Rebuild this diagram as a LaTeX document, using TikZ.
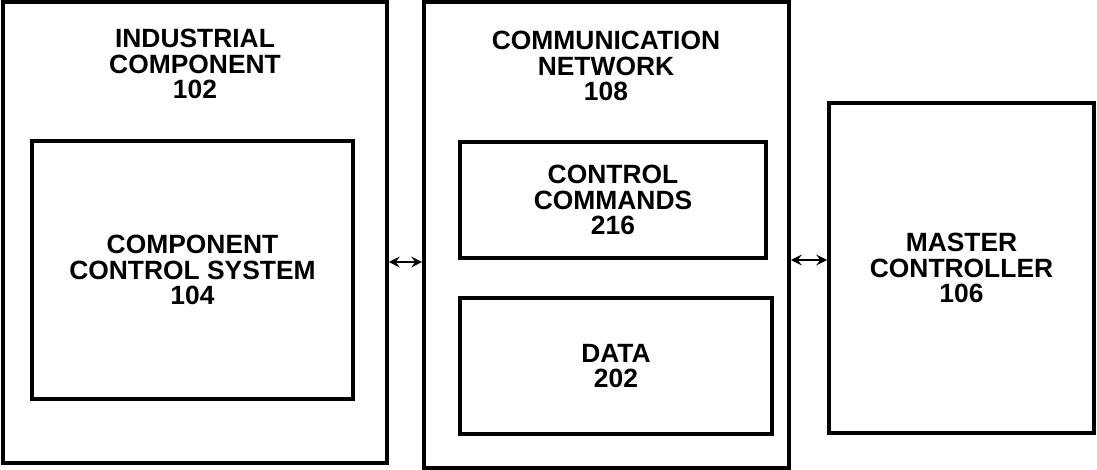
\documentclass[tikz,border=0pt]{standalone}
\usepackage{fontspec}
\setmainfont{Liberation Sans}
\usepackage{tikz}
\usetikzlibrary{arrows}

\tikzset{
  blk/.style={draw, line width=1.8pt, inner sep=0pt, align=center},
  ttl/.style={inner sep=0pt, align=center},
  lnk/.style={<->, >=stealth, line width=1.4pt}
}

\begin{document}
\begin{tikzpicture}[x=0.5pt, y=-0.5pt,
    font=\fontsize{13.2}{12.6}\selectfont\bfseries]
			\useasboundingbox (0, 0) rectangle (1097, 470);
			% outer blocks
			\node [blk, minimum width=192pt, minimum height=230.5pt] (ind) at (195, 232.5) {};
			\node [blk, minimum width=182.5pt, minimum height=233pt] (net) at (606.5, 235) {};
			\node [ttl] (indT) at (195, 64) {INDUSTRIAL\\COMPONENT\\102};
			\node [ttl] (netT) at (606, 66) {COMMUNICATION\\NETWORK\\108};
			% inner blocks
			\node [blk, minimum width=160.5pt, minimum height=129pt] (ccs) at (192.5, 270) {COMPONENT\\CONTROL SYSTEM\\104};
			\node [blk, minimum width=153pt, minimum height=58pt] (cmd) at (613, 200) {CONTROL\\COMMANDS\\216};
			\node [blk, minimum width=156pt, minimum height=68pt] (data) at (616, 366) {DATA\\202};
			\node [blk, minimum width=132.5pt, minimum height=165pt] (mc) at (961.5, 268) {MASTER\\CONTROLLER\\106};
			% links
			\coordinate (l1) at (400, 262);
			\coordinate (r1) at (810, 260);
			\draw [lnk] (ind.east |- l1) -- (net.west |- l1);
			\draw [lnk] (net.east |- r1) -- (mc.west |- r1);
		\end{tikzpicture}
\end{document}
